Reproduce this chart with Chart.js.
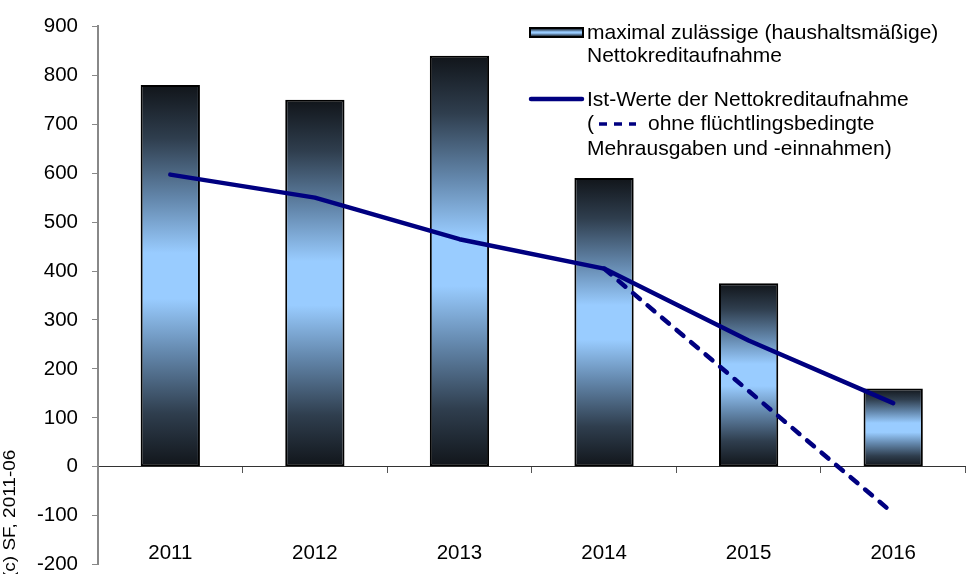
<!DOCTYPE html>
<html>
<head>
<meta charset="utf-8">
<script src="https://cdn.jsdelivr.net/npm/chart.js@4.4.1/dist/chart.umd.min.js"></script>
<style>
  html, body { margin: 0; padding: 0; background: #fff; overflow: hidden; }
  /* slightly larger than the window: the plot runs past the right and bottom edges */
  #wrap { position: relative; width: 984px; height: 591px; }
</style>
</head>
<body>
<div id="wrap"><canvas id="myChart"></canvas></div>
<script>
// values
const years = ['2011', '2012', '2013', '2014', '2015', '2016'];
const maxNetBorrowing = [780, 750, 840, 590, 375, 160];   // bars
const actualNetBorrowing = [597, 550, 465, 405, 258, 130]; // solid line
const withoutRefugees = [null, null, null, 405, 155, -95]; // dashed line
const yTicks = [-200, -100, 0, 100, 200, 300, 400, 500, 600, 700, 800, 900];

const FONT = "'Liberation Sans', Arial, sans-serif";
const NAVY = '#000080';

// vertical gradient: dark at both ends, light blue in the middle
function addBarStops(g) {
    g.addColorStop(0, '#11151a');
    g.addColorStop(0.14, '#2f3e4e');
    g.addColorStop(0.3, '#6488ad');
    g.addColorStop(0.44, '#99ccff');
    g.addColorStop(0.56, '#99ccff');
    g.addColorStop(0.7, '#6488ad');
    g.addColorStop(0.86, '#2f3e4e');
    g.addColorStop(1, '#11151a');
    return g;
}

function barGradient(context) {
    const chart = context.chart;
    if (!chart.chartArea || context.type !== 'data') return '#99ccff';
    const y = chart.scales.y;
    const top = y.getPixelForValue(context.raw);
    const base = y.getPixelForValue(0);
    return addBarStops(chart.ctx.createLinearGradient(0, top, 0, base));
}

// legend and copyright drawn by hand (multi-line legend text)
const customLegend = {
    id: 'customLegend',
    afterDraw(chart) {
        const ctx = chart.ctx;
        ctx.save();
        ctx.font = '21px ' + FONT;
        ctx.fillStyle = '#000';
        ctx.textBaseline = 'middle';
        ctx.textAlign = 'left';

        // bar swatch
        const g = addBarStops(ctx.createLinearGradient(0, 28, 0, 37));
        ctx.fillStyle = g;
        ctx.fillRect(530, 28, 53, 9);
        ctx.strokeStyle = '#000';
        ctx.lineWidth = 2;
        ctx.strokeRect(530, 28, 53, 9);

        ctx.fillStyle = '#000';
        ctx.fillText('maximal zulässige (haushaltsmäßige)', 587, 33);
        ctx.fillText('Nettokreditaufnahme', 587, 56);

        // line swatch
        ctx.strokeStyle = NAVY;
        ctx.lineWidth = 4.5;
        ctx.lineCap = 'round';
        ctx.beginPath();
        ctx.moveTo(531, 99);
        ctx.lineTo(582, 99);
        ctx.stroke();

        ctx.fillText('Ist-Werte der Nettokreditaufnahme', 587, 100);
        ctx.fillText('(', 587, 124);
        ctx.setLineDash([8, 7]);
        ctx.lineCap = 'butt';
        ctx.lineWidth = 3.5;
        ctx.beginPath();
        ctx.moveTo(599, 124);
        ctx.lineTo(636, 124);
        ctx.stroke();
        ctx.setLineDash([]);
        ctx.fillText('ohne flüchtlingsbedingte', 648, 124);
        ctx.fillText('Mehrausgaben und -einnahmen)', 587, 149);

        // copyright, rotated
        ctx.font = '16.5px ' + FONT;
        ctx.translate(15, 578);
        ctx.rotate(-Math.PI / 2);
        ctx.scale(1.15, 1);
        ctx.textBaseline = 'alphabetic';
        ctx.fillText('(c) SF, 2011-06', 0, 0);
        ctx.restore();
    }
};

const ctx = document.getElementById('myChart').getContext('2d');
const myChartInstance = new Chart(ctx, {
    type: 'bar',
    data: {
        labels: years,
        datasets: [
            {
                type: 'line',
                label: 'Ist-Werte der Nettokreditaufnahme',
                data: actualNetBorrowing,
                borderColor: NAVY,
                borderWidth: 4.5,
                borderCapStyle: 'round',
                borderJoinStyle: 'round',
                pointRadius: 0,
                tension: 0,
                order: 1
            },
            {
                type: 'line',
                label: 'ohne flüchtlingsbedingte Mehrausgaben und -einnahmen',
                data: withoutRefugees,
                borderColor: NAVY,
                borderWidth: 4.5,
                borderDash: [9, 10],
                borderCapStyle: 'round',
                pointRadius: 0,
                tension: 0,
                spanGaps: false,
                order: 2
            },
            {
                label: 'maximal zulässige (haushaltsmäßige) Nettokreditaufnahme',
                data: maxNetBorrowing,
                backgroundColor: barGradient,
                borderColor: '#000',
                borderWidth: 2,
                borderSkipped: false,
                categoryPercentage: 1,
                barPercentage: 0.41,
                order: 3
            }
        ]
    },
    options: {
        responsive: true,
        maintainAspectRatio: false,
        animation: false,
        layout: { padding: { top: 24, bottom: 10, left: 0, right: 0 } },
        plugins: {
            legend: { display: false },
            tooltip: { enabled: false }
        },
        scales: {
            x: {
                position: { y: 0 },
                offset: true,
                afterFit: (scale) => { scale.height = 0; },
                grid: {
                    offset: true,
                    drawOnChartArea: false,
                    drawTicks: true,
                    tickLength: 6,
                    color: '#555'
                },
                border: { display: true, color: '#333', width: 1 },
                ticks: {
                    padding: 68,
                    color: '#000',
                    font: { family: FONT, size: 20.5 }
                }
            },
            y: {
                min: -200,
                max: 900,
                afterBuildTicks: (scale) => {
                    scale.ticks = yTicks.map(v => ({ value: v }));
                },
                afterFit: (scale) => { scale.width = 98; },
                grid: {
                    drawOnChartArea: false,
                    drawTicks: true,
                    tickLength: 6,
                    color: '#888'
                },
                border: { display: true, color: '#888', width: 2 },
                ticks: {
                    padding: 14,
                    color: '#000',
                    font: { family: FONT, size: 20.5 }
                }
            }
        }
    },
    plugins: [customLegend]
});
</script>
</body>
</html>
